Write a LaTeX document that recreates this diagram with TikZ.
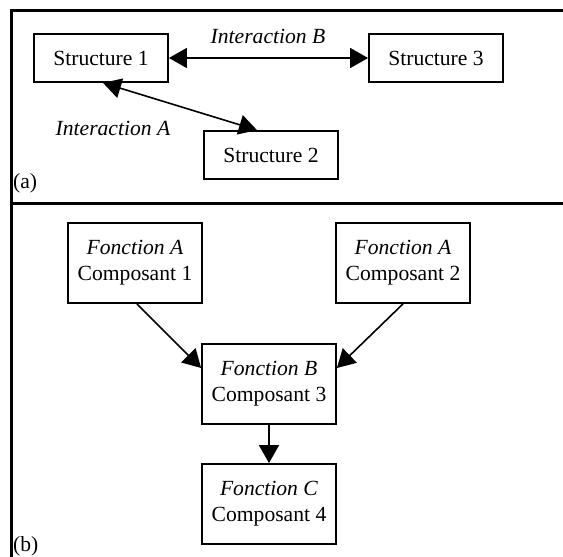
\documentclass[tikz,border=0pt]{standalone}
\usepackage{fontspec}
\setmainfont{Liberation Serif}
\usetikzlibrary{arrows.meta, positioning, calc}

\tikzset{
  box/.style={draw, line width=1.8pt, inner sep=0pt, align=center,
    minimum width=134pt},
  strbox/.style={box, minimum height=48pt},
  compbox/.style={box, minimum height=80pt},
  link/.style={line width=1.6pt, -{Triangle[length=18pt,width=20pt]}},
  bilink/.style={line width=1.6pt, {Triangle[length=18pt,width=20pt]}-{Triangle[length=18pt,width=20pt]}}
}

\begin{document}
\begin{tikzpicture}[x=1pt, y=-1pt, font=\fontsize{21.6}{26}\selectfont]
		\useasboundingbox (0,0) rectangle (563,557);

		% Frame
		\draw[line width=3pt] (563,10) -- (11,10) -- (11,557);
		\draw[line width=3pt] (11,203) -- (563,203);

		% (a) Structures
		\node[strbox] (s1) at (101,58) {Structure 1};
		\node[strbox] (s3) at (436,58) {Structure 3};
		\node[strbox] (s2) at (271,155) {Structure 2};

		\node (intB) at (268,36) {\textit{Interaction B}};
		\node (intA) at (113,128) {\textit{Interaction A}};
		\node[anchor=west, inner sep=0pt] (lbla) at (13,183) {(a)};

		\draw[bilink] (s1) -- (s3);
		\draw[bilink] ([xshift=2pt]s1.south) -- ([xshift=-14pt]s2.north);

		% (b) Composants
		\node[compbox] (c1) at (135,263) {\textit{Fonction A}\\Composant 1};
		\node[compbox] (c2) at (403,263) {\textit{Fonction A}\\Composant 2};
		\node[compbox] (c3) at (269,384) {\textit{Fonction B}\\Composant 3};
		\node[compbox] (c4) at (269,504) {\textit{Fonction C}\\Composant 4};

		\node[anchor=west, inner sep=0pt] (lblb) at (13,546) {(b)};

		\draw[link] ([xshift=2pt]c1.south) -- ([yshift=16pt]c3.west);
		\draw[link] (c2.south) -- ([yshift=16pt]c3.east);
		\draw[link] (c3) -- (c4);
	\end{tikzpicture}
\end{document}
